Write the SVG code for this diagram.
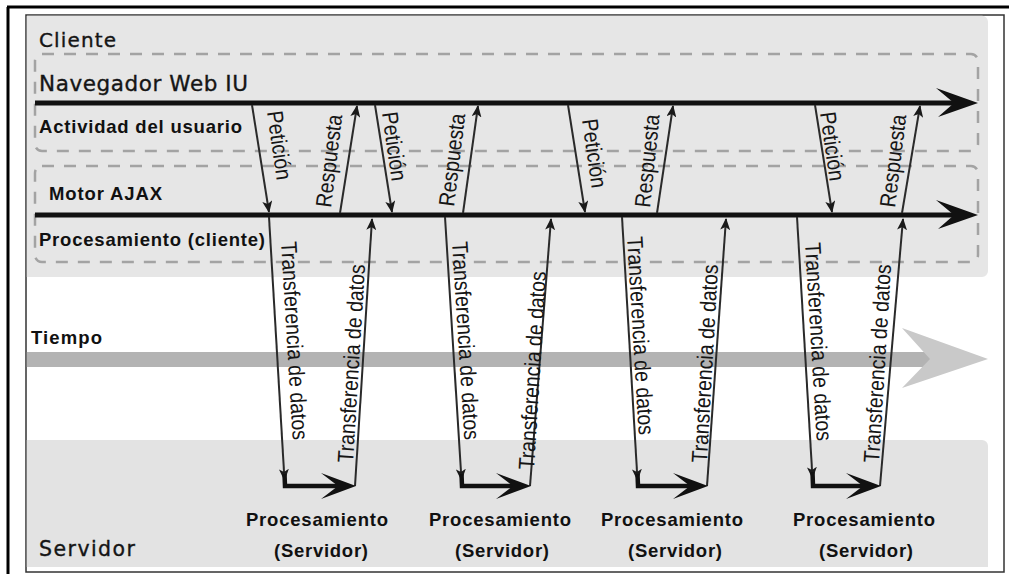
<svg xmlns="http://www.w3.org/2000/svg" width="1009" height="574" viewBox="0 0 1009 574">
<style>
.reg{font-family:"DejaVu Sans","Liberation Sans",sans-serif;fill:#151515;stroke:#151515;stroke-width:0.35}
.bold{font-family:"Liberation Sans",Arial,sans-serif;font-weight:bold;font-size:18.5px;fill:#111}
.lbl{font-family:"Liberation Sans",Arial,sans-serif;font-size:19.5px;fill:#151515}
.dash{fill:none;stroke:#a3a3a3;stroke-width:2.5;stroke-dasharray:12 10}
.thin{fill:none;stroke:#2a2a2a;stroke-width:2}
.thick{fill:none;stroke:#111;stroke-width:5}
.srv{fill:none;stroke:#111;stroke-width:4.5}
.dart{fill:#111}
</style>
<defs>
<marker id="ah" viewBox="0 0 12 10" refX="11" refY="5" markerWidth="12" markerHeight="10" markerUnits="userSpaceOnUse" orient="auto">
<path d="M0,0 L12,5 L0,10 L3,5 z" fill="#1a1a1a"/>
</marker>
</defs>
<rect x="0" y="0" width="1009" height="574" fill="#ffffff"/>
<g id="frame">
<path d="M7,7 H1009 M8,7 V574" stroke="#000" stroke-width="3" fill="none"/>
<rect x="26" y="15" width="978" height="557" fill="#ffffff" stroke="#333" stroke-width="1.5"/>
</g>
<g id="cliente">
<path d="M26.8,15.8 H982 a6,6 0 0 1 6,6 V271 a6,6 0 0 1 -6,6 H26.8 z" fill="#e6e6e6"/>
<text class="reg" x="39" y="47" font-size="20" textLength="77" lengthAdjust="spacing">Cliente</text>
</g>
<g id="navegador">
<rect class="dash" x="35" y="54" width="943" height="97" rx="7"/>
<text class="reg" x="39" y="91" font-size="21.5" textLength="209" lengthAdjust="spacing">Navegador Web IU</text>
<text class="bold" x="39" y="133" textLength="203" lengthAdjust="spacing">Actividad del usuario</text>
</g>
<g id="motor">
<rect class="dash" x="35" y="166" width="943" height="96" rx="7"/>
<text class="bold" x="49" y="200" textLength="113" lengthAdjust="spacing">Motor AJAX</text>
<text class="bold" x="39" y="246" textLength="226" lengthAdjust="spacing">Procesamiento (cliente)</text>
</g>
<g id="tiempo">
<rect x="26.8" y="352" width="910" height="15" fill="#b3b3b3"/>
<polygon points="988,359 902,328 930,359 902,388" fill="#c9c9c9"/>
<text class="bold" x="31" y="344" textLength="71" lengthAdjust="spacing">Tiempo</text>
</g>
<g id="servidor">
<path d="M26.8,440 H982 a6,6 0 0 1 6,6 V567 H26.8 z" fill="#e3e3e3"/>
<text class="reg" x="39" y="556" font-size="20.5" textLength="96" lengthAdjust="spacing">Servidor</text>
<text class="bold" x="317" y="526" text-anchor="middle" textLength="142" lengthAdjust="spacing">Procesamiento</text>
<text class="bold" x="321" y="557" text-anchor="middle" textLength="94" lengthAdjust="spacing">(Servidor)</text>
<text class="bold" x="500" y="526" text-anchor="middle" textLength="142" lengthAdjust="spacing">Procesamiento</text>
<text class="bold" x="502" y="557" text-anchor="middle" textLength="94" lengthAdjust="spacing">(Servidor)</text>
<text class="bold" x="672" y="526" text-anchor="middle" textLength="142" lengthAdjust="spacing">Procesamiento</text>
<text class="bold" x="675" y="557" text-anchor="middle" textLength="94" lengthAdjust="spacing">(Servidor)</text>
<text class="bold" x="864" y="526" text-anchor="middle" textLength="142" lengthAdjust="spacing">Procesamiento</text>
<text class="bold" x="866" y="557" text-anchor="middle" textLength="94" lengthAdjust="spacing">(Servidor)</text>
</g>
<g id="timelines">
<path class="thick" d="M35,103 H956"/>
<polygon class="dart" points="978,103 936,88 954,103 938,117"/>
<path class="thick" d="M35,215 H956"/>
<polygon class="dart" points="978,215 936,200 954,215 938,229"/>
</g>
<g id="connectors">
<path class="thin" d="M252,105 L269,212" marker-end="url(#ah)"/>
<path class="thin" d="M375,105 L392,212" marker-end="url(#ah)"/>
<path class="thin" d="M568,105 L585,212" marker-end="url(#ah)"/>
<path class="thin" d="M815,105 L832,212" marker-end="url(#ah)"/>
<path class="thin" d="M340,213 L357,106" marker-end="url(#ah)"/>
<path class="thin" d="M463,213 L478,106" marker-end="url(#ah)"/>
<path class="thin" d="M657,213 L673,106" marker-end="url(#ah)"/>
<path class="thin" d="M902,213 L920,106" marker-end="url(#ah)"/>
<path class="thin" d="M269,217 L284.5,480" marker-end="url(#ah)"/>
<path class="thin" d="M445,217 L461.5,480" marker-end="url(#ah)"/>
<path class="thin" d="M622,217 L637.5,480" marker-end="url(#ah)"/>
<path class="thin" d="M797,217 L812.5,478" marker-end="url(#ah)"/>
<path class="thin" d="M355,486 L372,219" marker-end="url(#ah)"/>
<path class="thin" d="M530,486 L551,219" marker-end="url(#ah)"/>
<path class="thin" d="M707,486 L726,219" marker-end="url(#ah)"/>
<path class="thin" d="M880,486 L903,219" marker-end="url(#ah)"/>
<path class="srv" d="M284.5,474 L285,486 L339,486"/>
<polygon class="dart" points="356,486 321,473 338,486 321,499"/>
<path class="srv" d="M461.5,474 L462,486 L514,486"/>
<polygon class="dart" points="531,486 496,473 513,486 496,499"/>
<path class="srv" d="M637.5,474 L638,486 L691,486"/>
<polygon class="dart" points="708,486 673,473 690,486 673,499"/>
<path class="srv" d="M812.5,472 L813,486 L864,486"/>
<polygon class="dart" points="881,486 846,473 863,486 846,499"/>
</g>
<g id="connector-labels">
<text class="lbl" transform="translate(267,112) rotate(82) scale(1,1.15)">Petición</text>
<text class="lbl" transform="translate(382,113) rotate(82) scale(1,1.15)">Petición</text>
<text class="lbl" transform="translate(582,120) rotate(82) scale(1,1.15)">Petición</text>
<text class="lbl" transform="translate(820,113) rotate(82) scale(1,1.15)">Petición</text>
<text class="lbl" transform="translate(331,208) rotate(-83) scale(1,1.15)">Respuesta</text>
<text class="lbl" transform="translate(454,207) rotate(-83) scale(1,1.15)">Respuesta</text>
<text class="lbl" transform="translate(650,208) rotate(-84) scale(1,1.15)">Respuesta</text>
<text class="lbl" transform="translate(895,208) rotate(-83) scale(1,1.15)">Respuesta</text>
<text class="lbl" transform="translate(281,242) rotate(86.6) scale(1,1.15)">Transferencia de datos</text>
<text class="lbl" transform="translate(452,242) rotate(86.4) scale(1,1.15)">Transferencia de datos</text>
<text class="lbl" transform="translate(627,237) rotate(86.6) scale(1,1.15)">Transferencia de datos</text>
<text class="lbl" transform="translate(805,243) rotate(86.6) scale(1,1.15)">Transferencia de datos</text>
<text class="lbl" transform="translate(353,463) rotate(-86.5) scale(1,1.15)">Transferencia de datos</text>
<text class="lbl" transform="translate(534,470) rotate(-86.5) scale(1,1.15)">Transferencia de datos</text>
<text class="lbl" transform="translate(707,463) rotate(-86.8) scale(1,1.15)">Transferencia de datos</text>
<text class="lbl" transform="translate(879,463) rotate(-86.5) scale(1,1.15)">Transferencia de datos</text>
</g>
</svg>
